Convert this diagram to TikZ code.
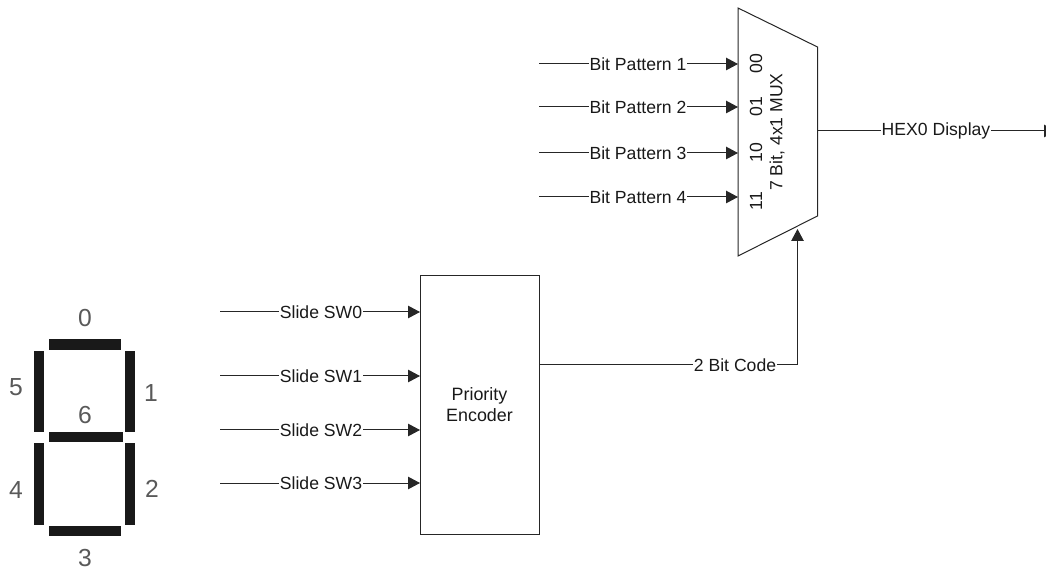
\documentclass[tikz,border=0pt]{standalone}
\usepackage{fontspec}
\setmainfont{Liberation Sans}
\usetikzlibrary{arrows.meta}
\tikzset{
  x=0.75pt,y=-0.75pt,
  wire/.style={line width=0.75pt,draw=black!85},
  arrowwire/.style={wire,-{Triangle[length=9pt,width=9.4pt]},shorten >=0pt},
  lbl/.style={font=\fontsize{13.2pt}{15pt}\selectfont,inner sep=0.5pt,text=black!90},
  blockbox/.style={draw=black!85,line width=0.75pt,minimum width=89.25pt,minimum height=193.5pt,inner sep=0pt,align=center,font=\fontsize{13.4pt}{15.7pt}\selectfont,text=black!90},
  port/.style={lbl,rotate=90,inner sep=0pt},
  seg/.style={fill=black!90,draw=none},
  digit/.style={font=\fontsize{18.5pt}{20pt}\selectfont,text=black!65,inner sep=0pt},
}
\begin{document}
\begin{tikzpicture}
\useasboundingbox (0,0) rectangle (1046,573);
\clip (0,0) rectangle (1046,573);
% seven-segment display
\fill[seg] (48.5,339.5) rectangle (121,350);
\fill[seg] (33.5,351) rectangle (44,432);
\fill[seg] (124.5,351) rectangle (135,432);
\fill[seg] (48.5,432.5) rectangle (123,442);
\fill[seg] (33.5,443) rectangle (44,525);
\fill[seg] (124.5,443) rectangle (135,525);
\fill[seg] (48.5,526) rectangle (121,536);
\node[digit] (d0) at (85,318) {0};
\node[digit] (d1) at (151,393) {1};
\node[digit] (d2) at (152,489) {2};
\node[digit] (d3) at (85,558) {3};
\node[digit] (d4) at (16,490) {4};
\node[digit] (d5) at (16,387) {5};
\node[digit] (d6) at (85,415) {6};
% priority encoder
\node[blockbox] (enc) at (479.5,405) {Priority\\Encoder};
\foreach \n/\y/\t in {0/312/Slide SW0,1/376/Slide SW1,2/430/Slide SW2,3/483/Slide SW3}{
  \coordinate (s\n) at (220,\y);
  \coordinate (e\n) at (420,\y);
  \node[lbl] (ls\n) at (321,\y) {\t};
  \draw[wire] (s\n) -- (ls\n);
  \draw[arrowwire] (ls\n) -- (e\n);
}
% multiplexer
\coordinate (m1) at (738,8);
\coordinate (m2) at (817.5,47);
\coordinate (m3) at (817.5,216);
\coordinate (m4) at (738,256);
\draw[wire,line join=miter] (m1) -- (m2) -- (m3) -- (m4) -- cycle;
\foreach \n/\y/\t in {1/64/Bit Pattern 1,2/107/Bit Pattern 2,3/153/Bit Pattern 3,4/197/Bit Pattern 4}{
  \coordinate (b\n) at (539,\y);
  \coordinate (i\n) at (738,\y);
  \node[lbl] (lb\n) at (638,\y) {\t};
  \draw[wire] (b\n) -- (lb\n);
  \draw[arrowwire] (lb\n) -- (i\n);
}
\node[port] (p0) at (756,64) {00};
\node[port] (p1) at (756,107) {01};
\node[port] (p2) at (756,153) {10};
\node[port] (p3) at (756,201) {11};
\node[port] (mtxt) at (777,132) {7 Bit, 4x1 MUX};
% output
\coordinate (mo) at (817.5,131);
\coordinate (hex) at (1056,131);
\node[lbl] (lh) at (936,131) {HEX0 Display};
\draw[wire] (mo) -- (lh);
\draw[arrowwire] (lh) -- (hex);
% select code
\coordinate (eo) at (539,365);
\coordinate (sel) at (797.5,229);
\node[lbl] (lc) at (735,365) {2 Bit Code};
\draw[wire] (eo) -- (lc);
\draw[arrowwire] (lc) -| (sel);
\end{tikzpicture}
\end{document}
